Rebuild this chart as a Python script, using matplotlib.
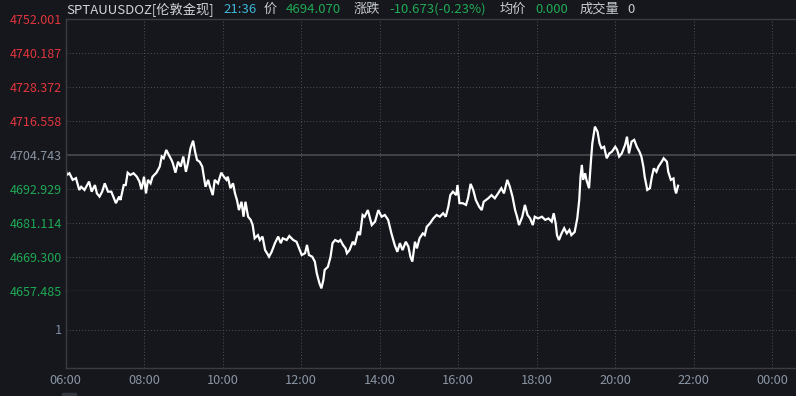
import matplotlib
matplotlib.use("Agg")
import matplotlib.pyplot as plt
from matplotlib.patches import Rectangle

# minutes after 06:00 and spot gold price
minutes = [0, 2, 6, 11, 16, 21, 24, 29, 36, 40, 45, 48, 52, 56, 60, 65, 70, 74, 77, 82,
           84, 89, 92, 95, 99, 104, 109, 113, 116, 120, 123, 126, 130, 133, 139, 144, 147, 150, 154, 158,
           162, 164, 168, 172, 176, 180, 184, 187, 191, 195, 198, 201, 205, 209, 211, 214, 218, 220, 225, 228,
           233, 238, 242, 246, 248, 252, 256, 259, 262, 265, 269, 272, 275, 279, 283, 286, 289, 294, 297, 301,
           305, 308, 311, 315, 320, 325, 329, 332, 338, 342, 348, 353, 357, 361, 366, 369, 372, 377, 381, 384,
           388, 391, 394, 396, 401, 405, 408, 412, 417, 420, 424, 428, 430, 434, 439, 442, 447, 450, 454, 457,
           462, 468, 473, 478, 483, 488, 493, 498, 503, 507, 511, 515, 520, 524, 527, 530, 534, 537, 541, 546,
           549, 552, 557, 562, 567, 572, 577, 581, 585, 588, 592, 597, 599, 602, 607, 612, 615, 619, 623, 627,
           632, 636, 639, 646, 651, 656, 661, 666, 670, 675, 679, 683, 687, 690, 693, 698, 702, 706, 710, 714,
           717, 722, 728, 733, 738, 743, 746, 749, 751, 754, 758, 762, 766, 770, 773, 778, 782, 785, 787, 789,
           791, 794, 796, 800, 803, 805, 809, 813, 816, 819, 823, 827, 831, 835, 840, 843, 846, 850, 855, 858,
           861, 865, 869, 873, 877, 880, 883, 885, 889, 893, 896, 899, 903, 906, 911, 914, 919, 921, 925, 929,
           931, 933, 936]
prices = [4700.1, 4697.8, 4698.4, 4696.1, 4696.7, 4692.6, 4693.7, 4692.6, 4695.5, 4692.0,
          4694.3, 4691.4, 4690.3, 4692.0, 4694.9, 4692.0, 4692.0, 4689.7, 4688.0, 4690.3,
          4689.1, 4694.3, 4694.3, 4698.6, 4697.8, 4698.4, 4697.2, 4695.5, 4692.8, 4697.2,
          4691.4, 4696.1, 4694.9, 4697.2, 4698.6, 4700.7, 4704.2, 4703.6, 4706.5, 4704.7,
          4703.0, 4701.9, 4698.6, 4702.4, 4700.7, 4704.2, 4698.9, 4701.9, 4707.1, 4709.7,
          4705.9, 4703.0, 4702.4, 4700.7, 4697.8, 4693.7, 4696.1, 4694.3, 4690.8, 4696.1,
          4694.9, 4698.6, 4697.2, 4696.1, 4697.2, 4693.2, 4694.9, 4691.4, 4689.1, 4685.6,
          4688.5, 4683.3, 4688.5, 4683.3, 4682.2, 4680.4, 4675.8, 4676.9, 4675.2, 4676.4,
          4671.7, 4670.6, 4669.4, 4671.1, 4674.1, 4676.4, 4674.1, 4675.8, 4675.2, 4676.6,
          4675.2, 4674.6, 4672.3, 4670.0, 4670.6, 4673.5, 4670.0, 4669.4, 4667.7, 4663.6,
          4660.2, 4658.4, 4661.3, 4664.8, 4665.9, 4669.4, 4674.1, 4675.2, 4674.6, 4675.2,
          4673.5, 4672.3, 4670.6, 4671.7, 4674.6, 4673.5, 4678.1, 4676.9, 4683.9, 4683.3,
          4685.6, 4680.4, 4681.6, 4685.6, 4683.3, 4683.9, 4682.2, 4677.5, 4673.5, 4671.1,
          4674.1, 4671.7, 4674.6, 4672.9, 4669.4, 4667.7, 4674.6, 4672.3, 4675.8, 4677.5,
          4676.9, 4679.8, 4681.0, 4682.7, 4683.9, 4683.3, 4684.5, 4683.3, 4686.8, 4690.8,
          4692.0, 4690.8, 4694.3, 4688.0, 4688.0, 4687.4, 4689.7, 4694.7, 4692.6, 4689.1,
          4686.8, 4685.6, 4688.5, 4689.7, 4690.8, 4689.7, 4691.4, 4693.2, 4691.4, 4696.1,
          4693.7, 4690.3, 4685.6, 4683.3, 4680.4, 4683.3, 4687.4, 4683.9, 4682.7, 4680.4,
          4683.3, 4682.7, 4683.3, 4682.2, 4682.7, 4681.6, 4684.5, 4681.0, 4676.9, 4675.2,
          4677.5, 4679.3, 4677.5, 4678.7, 4676.9, 4678.0, 4682.7, 4689.1, 4697.2, 4701.3,
          4696.1, 4698.4, 4696.1, 4693.2, 4703.0, 4708.8, 4714.6, 4712.8, 4708.8, 4707.1,
          4707.6, 4703.6, 4705.3, 4705.9, 4707.6, 4706.5, 4704.2, 4705.3, 4708.2, 4711.1,
          4705.3, 4709.4, 4710.0, 4707.6, 4705.9, 4704.2, 4700.7, 4697.2, 4692.6, 4693.2,
          4697.2, 4700.1, 4698.9, 4700.7, 4702.4, 4703.6, 4702.4, 4698.9, 4696.1, 4696.6,
          4693.2, 4691.4, 4694.07]

price_ticks = [4752.001, 4740.187, 4728.372, 4716.558, 4704.743,
               4692.929, 4681.114, 4669.300, 4657.485]
prev_close = 4704.743
time_ticks = [0, 120, 240, 360, 480, 600, 720, 840, 960, 1080]
time_labels = ["06:00", "08:00", "10:00", "12:00", "14:00",
               "16:00", "18:00", "20:00", "22:00", "00:00"]

BG = "#15171c"
SOLID = "#3a3c42"
DOT = "#4a4d55"
RED = "#e2353c"
GREEN = "#1fa955"
GREY = "#8a93a0"
AXIS_TXT = "#8b95a5"

plt.rcParams['font.family'] = ['Noto Sans CJK SC', 'DejaVu Sans']

W, H = 796, 396
fig = plt.figure(figsize=(W / 100, H / 100), dpi=100, facecolor=BG)

left = 65.5 / W
ax = fig.add_axes([left, (H - 291) / H, 1 - left, 272 / H], facecolor=BG)
axv = fig.add_axes([left, (H - 368) / H, 1 - left, 77 / H], facecolor=BG)

xmax = (W - 65.8) * 120 / 78.5

# price panel
ax.plot(minutes, prices, color="white", lw=1.6, solid_joinstyle="miter")
ax.set_xlim(0, xmax)
ax.set_ylim(price_ticks[-1], price_ticks[0])
ax.set_yticks(price_ticks)
ax.set_yticklabels(["%.3f" % v for v in price_ticks])
for lbl, v in zip(ax.get_yticklabels(), price_ticks):
    if v > prev_close + 1e-6:
        lbl.set_color(RED)
    elif v < prev_close - 1e-6:
        lbl.set_color(GREEN)
    else:
        lbl.set_color(GREY)
ax.set_xticks(time_ticks)
ax.tick_params(axis="x", length=0, labelbottom=False)
ax.tick_params(axis="y", length=0, labelsize=9, pad=2.5)
for v in price_ticks[1:-1]:
    if v == prev_close:
        ax.axhline(v, color="#44464c", lw=1.3, zorder=1)
    else:
        ax.axhline(v, color=DOT, lw=0.75, ls=(0, (1, 2)), zorder=1)
for t in time_ticks[1:]:
    ax.axvline(t, color=DOT, lw=0.75, ls=(0, (1, 2)), zorder=1)
for side in ["left", "top", "bottom"]:
    ax.spines[side].set_color(SOLID)
    ax.spines[side].set_linewidth(1.0)
ax.spines["right"].set_visible(False)

# volume panel (empty)
axv.set_xlim(0, xmax)
axv.set_ylim(0, 2)
axv.set_yticks([1])
axv.set_yticklabels(["1"], color="#7d8ca3")
axv.axhline(1, color=DOT, lw=0.75, ls=(0, (1, 2)), zorder=1)
for t in time_ticks[1:]:
    axv.axvline(t, color=DOT, lw=0.75, ls=(0, (1, 2)), zorder=1)
axv.set_xticks(time_ticks)
axv.set_xticklabels(time_labels, color=AXIS_TXT)
axv.tick_params(axis="both", length=0, labelsize=9.2)
axv.tick_params(axis="y", pad=2.5)
axv.tick_params(axis="x", pad=4.5)
for side in ["left", "bottom"]:
    axv.spines[side].set_color(SOLID)
    axv.spines[side].set_linewidth(1.0)
axv.spines["top"].set_visible(False)
axv.spines["right"].set_visible(False)

# header line
header = [
    (66, "SPTAUUSDOZ[伦敦金现]", "#d2d6dc"),
    (223, "21:36", "#3db6d6"),
    (264, "价", "#c8ccd2"),
    (286, "4694.070", GREEN),
    (354, "涨跌", "#c8ccd2"),
    (389, "-10.673(-0.23%)", GREEN),
    (500, "均价", "#c8ccd2"),
    (535, "0.000", GREEN),
    (580, "成交量", "#c8ccd2"),
    (627, "0", "#c8ccd2"),
]
for x, s, c in header:
    fig.text(x / W, 1 - 9.5 / H, s, color=c, fontsize=9.5, ha="left", va="center")

fig.patches.append(Rectangle((62 / W, 0), 14 / W, 3 / H, transform=fig.transFigure,
                             color="#33363c", zorder=0))

fig.savefig("out.png", dpi=100, facecolor=BG)
